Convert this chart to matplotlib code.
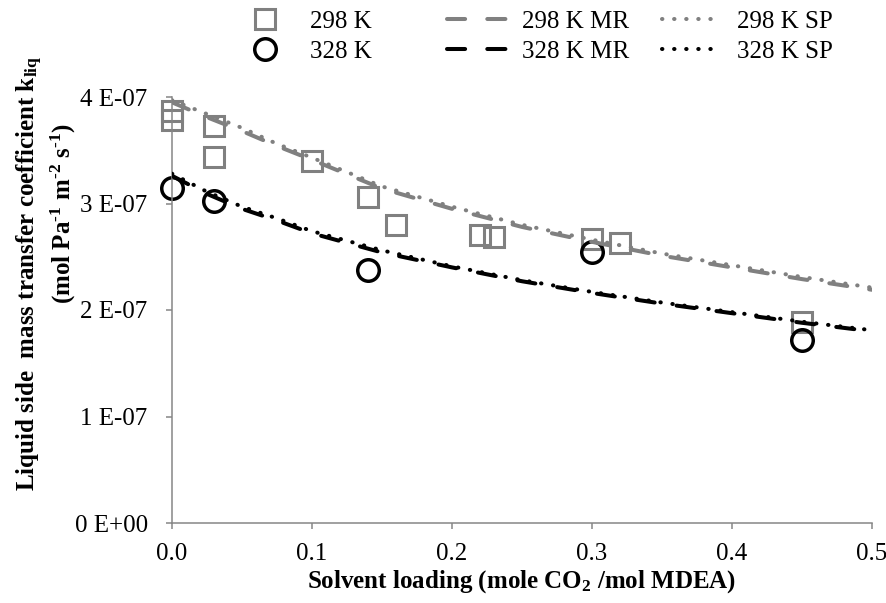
import matplotlib.pyplot as plt

plt.rcParams['font.family'] = 'Liberation Serif'
plt.rcParams['mathtext.fontset'] = 'custom'
plt.rcParams['mathtext.rm'] = 'Liberation Serif'
plt.rcParams['mathtext.it'] = 'Liberation Serif:italic'
plt.rcParams['mathtext.bf'] = 'Liberation Serif:bold'

# measured k_liq, in units of 1e-7 mol Pa-1 m-2 s-1
load_298 = [0.0, 0.0, 0.03, 0.03, 0.10, 0.14, 0.16, 0.22, 0.23, 0.30, 0.32, 0.45]
kliq_298 = [3.87, 3.78, 3.73, 3.44, 3.40, 3.06, 2.80, 2.70, 2.69, 2.67, 2.63, 1.89]
load_328 = [0.0, 0.03, 0.14, 0.30, 0.45]
kliq_328 = [3.15, 3.02, 2.38, 2.54, 1.72]

# model curves (MR and SP)
model_load = [0.0, 0.025, 0.05, 0.075, 0.1, 0.15, 0.2, 0.25, 0.3, 0.35, 0.4, 0.45, 0.5]
mr_298 = [3.95, 3.81, 3.68, 3.54, 3.41, 3.14, 2.95, 2.78, 2.64, 2.51, 2.40, 2.29, 2.19]
sp_298 = [3.97, 3.84, 3.71, 3.56, 3.43, 3.16, 2.97, 2.80, 2.66, 2.53, 2.42, 2.31, 2.21]
mr_328 = [3.26, 3.09, 2.95, 2.84, 2.72, 2.54, 2.40, 2.27, 2.16, 2.06, 1.97, 1.88, 1.80]
sp_328 = [3.28, 3.11, 2.97, 2.86, 2.74, 2.56, 2.41, 2.28, 2.17, 2.07, 1.98, 1.89, 1.81]

yticks = [0, 1e-7, 2e-7, 3e-7, 4e-7]
ytick_labels = ['0 E+00', '1 E-07', '2 E-07', '3 E-07', '4 E-07']
xticks = [0.0, 0.1, 0.2, 0.3, 0.4, 0.5]
xtick_labels = ['0.0', '0.1', '0.2', '0.3', '0.4', '0.5']

GRAY = '#808080'
AXIS = '#868686'
E = 1e-7

fig = plt.figure(figsize=(8.87, 6.03), dpi=100)
ax = fig.add_axes([172/887, 1 - 523/603, 700/887, 426/603])

sq, = ax.plot(load_298, [v*E for v in kliq_298], 's', ms=13.7, mfc='none', mec=GRAY,
              mew=2.2, label='298 K', clip_on=False, zorder=2)
ci, = ax.plot(load_328, [v*E for v in kliq_328], 'o', ms=15.5, mfc='none', mec='black',
              mew=2.5, label='328 K', clip_on=False, zorder=2)

dash = (0, (4.5, 5.5))
dot = (0, (0.1, 2.9))
m298, = ax.plot(model_load, [v*E for v in mr_298], color=GRAY, lw=2.9, ls=dash,
                dash_capstyle='round', label='298 K MR', zorder=3)
m328, = ax.plot(model_load, [v*E for v in mr_328], color='black', lw=2.9, ls=dash,
                dash_capstyle='round', label='328 K MR', zorder=3)
s298, = ax.plot(model_load, [v*E for v in sp_298], color=GRAY, lw=2.9, ls=dot,
                dash_capstyle='round', label='298 K SP', zorder=4)
s328, = ax.plot(model_load, [v*E for v in sp_328], color='black', lw=2.9, ls=dot,
                dash_capstyle='round', label='328 K SP', zorder=4)

ax.set_xlim(0, 0.5)
ax.set_ylim(0, 4e-7)
ax.set_xticks(xticks)
ax.set_xticklabels(xtick_labels)
ax.set_yticks(yticks)
ax.set_yticklabels(ytick_labels)

for side in ['top', 'right']:
    ax.spines[side].set_visible(False)
for side in ['left', 'bottom']:
    ax.spines[side].set_color(AXIS)
    ax.spines[side].set_linewidth(1.1)
ax.tick_params(axis='both', direction='out', length=4.5, width=1.1, color=AXIS,
               labelsize=18)
ax.tick_params(axis='y', pad=13)
ax.tick_params(axis='x', pad=10)

ax.set_xlabel('Solvent loading (mole CO$_{\\mathbf{2}}$ /mol MDEA)',
              fontsize=18, fontweight='bold', labelpad=2)

fig.text(30/887, 1 - 273/603, 'Liquid side  mass transfer coefficient k$_{\\mathbf{liq}}$',
         rotation=90, ha='center', va='center', fontsize=18, fontweight='bold')
fig.text(63/887, 1 - 213/603,
         '(mol Pa$^{\\mathbf{\u20101}}$ m$^{\\mathbf{\u20102}}$ s$^{\\mathbf{\u20101}}$)',
         rotation=90, ha='center', va='center', fontsize=18, fontweight='bold')

# legend in three columns
leg_opts = dict(loc='upper left', frameon=False, borderpad=0, borderaxespad=0,
                handlelength=2.4, handletextpad=0.6, labelspacing=0.3, fontsize=18)
fig.legend(handles=[sq, ci], bbox_to_anchor=(235/887, 1 - 10/603), **leg_opts)
fig.legend(handles=[m298, m328], bbox_to_anchor=(447/887, 1 - 10/603), **leg_opts)
fig.legend(handles=[s298, s328], bbox_to_anchor=(662/887, 1 - 10/603), **leg_opts)

fig.savefig('out.png', dpi=100)
